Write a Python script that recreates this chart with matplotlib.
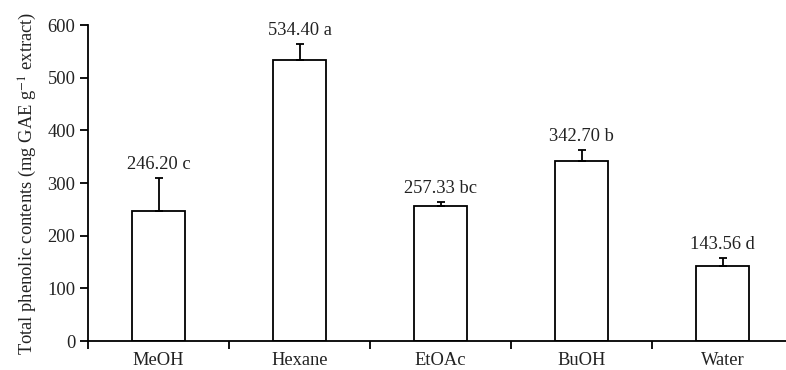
import matplotlib
matplotlib.use("Agg")
import matplotlib.pyplot as plt
from matplotlib.ticker import FixedLocator, NullFormatter

solvents = ["MeOH", "Hexane", "EtOAc", "BuOH", "Water"]
phenolic = [246.20, 534.40, 257.33, 342.70, 143.56]
sd = [64, 30, 7, 19.5, 14.5]
letters = ["c", "a", "bc", "b", "d"]
yticks = [0, 100, 200, 300, 400, 500, 600]

plt.rcParams["font.family"] = ["Liberation Serif", "DejaVu Serif"]
plt.rcParams["mathtext.fontset"] = "stix"

fs = 13.3
fig = plt.figure(figsize=(7.86, 3.70), dpi=100)
ax = fig.add_axes([0.112, 0.078, 0.888, 0.854])

x = list(range(len(solvents)))
ax.bar(x, phenolic, width=0.38, color="white", edgecolor="black", linewidth=1.3,
       yerr=[[0] * len(sd), sd], capsize=3.2,
       error_kw=dict(elinewidth=1.3, capthick=1.3, ecolor="black"))

for xi, v, e, l in zip(x, phenolic, sd, letters):
    ax.text(xi, v + e + 10, f"{v:.2f} {l}", ha="center", va="bottom",
            fontsize=fs, color="#222222")

ax.set_xlim(-0.5, 4.45)
ax.set_ylim(0, 600)
ax.set_yticks(yticks)
ax.set_xticks(x)
ax.set_xticklabels(solvents)
ax.xaxis.set_minor_locator(FixedLocator([-0.5, 0.5, 1.5, 2.5, 3.5]))
ax.xaxis.set_minor_formatter(NullFormatter())
ax.tick_params(axis="x", which="major", length=0, pad=8, labelsize=fs, labelcolor="#222222")
ax.tick_params(axis="x", which="minor", length=6, width=1.3, direction="out")
ax.tick_params(axis="y", length=6, width=1.3, direction="out", labelsize=fs, pad=3,
               labelcolor="#222222")

for s in ["top", "right"]:
    ax.spines[s].set_visible(False)
for s in ["left", "bottom"]:
    ax.spines[s].set_linewidth(1.3)

ax.set_ylabel(r"Total phenolic contents (mg GAE g$^{-1}$ extract)", fontsize=fs,
              labelpad=6, color="#222222")

fig.savefig("out.png", dpi=100)
